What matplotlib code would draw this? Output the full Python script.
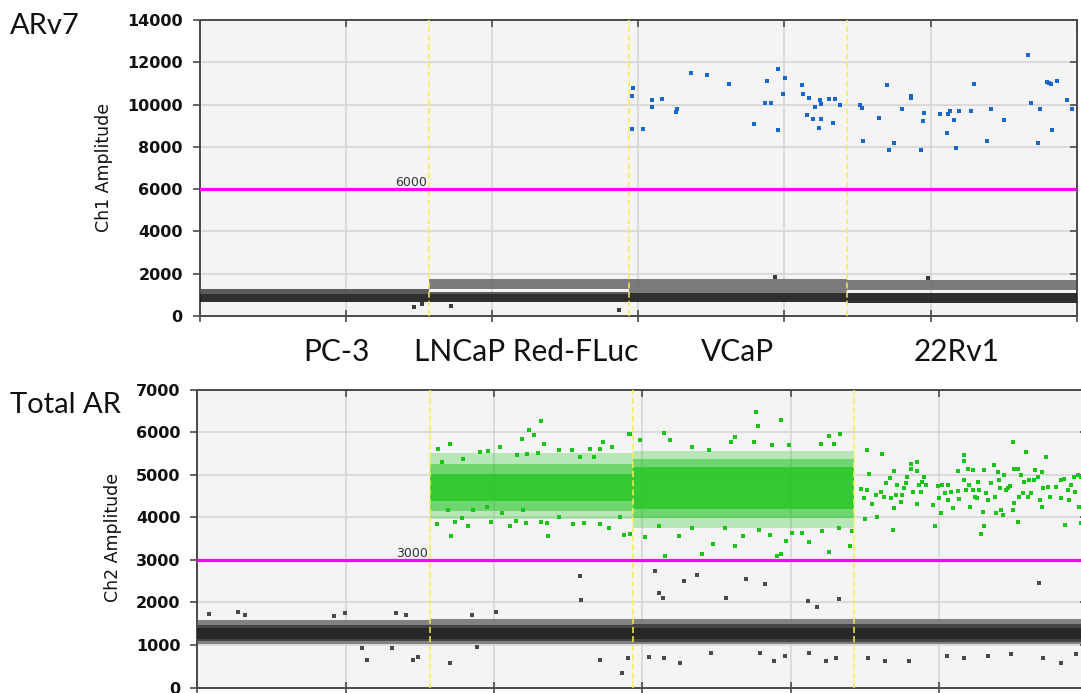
import numpy as np
import matplotlib
matplotlib.use("Agg")
import matplotlib.pyplot as plt
from matplotlib import markers as mmarkers

# ---------------- data ----------------
wells = ["PC-3", "LNCaP Red-FLuc", "VCaP", "22Rv1"]
well_edges = [0.0, 1.57, 2.94, 4.43, 6.0]
ch1_threshold = 6000
ch2_threshold = 3000
ch1_yticks = [0, 2000, 4000, 6000, 8000, 10000, 12000, 14000]
ch2_yticks = [0, 1000, 2000, 3000, 4000, 5000, 6000, 7000]

# Ch1 (ARv7) positive droplets
ch1_pos_x = [2.967, 2.956, 2.956, 3.036, 3.097, 3.097, 3.166, 3.264, 3.257, 3.359,
             3.471, 3.624, 3.795, 3.879, 3.870, 3.907, 3.957, 3.957, 3.989, 4.007,
             4.119, 4.128, 4.169, 4.212, 4.153, 4.194, 4.244, 4.253, 4.253, 4.237,
             4.303, 4.349, 4.331, 4.381,
             4.517, 4.529, 4.536, 4.647, 4.700, 4.716, 4.748, 4.807, 4.866, 4.866,
             4.935, 4.946, 4.953, 5.062, 5.115, 5.122, 5.131, 5.158, 5.174, 5.192,
             5.277, 5.299, 5.386, 5.413, 5.505, 5.669, 5.685, 5.737, 5.746, 5.794,
             5.810, 5.822, 5.828, 5.863, 5.931, 5.965]
ch1_pos_y = [10794, 10382, 8858, 8858, 10223, 9905, 10270, 9794, 9636, 11508,
             11397, 10985, 9080, 11096, 10096, 10096, 11683, 8795, 10509, 11270,
             10921, 10509, 10318, 9905, 9493, 9318, 10223, 10032, 9318, 8906,
             10270, 10270, 9144, 9969,
             9985, 9826, 8255, 9382, 10921, 7842, 8191, 9794, 10382, 10302,
             7842, 9207, 9620, 9556, 8668, 9556, 9683, 9271, 7969, 9683,
             9683, 10985, 8255, 9794, 9271, 12349, 10096, 8191, 9794, 11048,
             11000, 10985, 8795, 11096, 10207, 9794]

# Ch1 negative droplet clusters per well (amplitude ranges)
ch1_neg_lo = [640, 640, 640, 600]
ch1_neg_hi = [1030, 1030, 1100, 1110]
ch1_fringe_lo = [1030, 1030, np.nan, np.nan]
ch1_fringe_hi = [1300, 1140, np.nan, np.nan]
ch1_upper_lo = [np.nan, 1300, 1100, 1240]
ch1_upper_hi = [np.nan, 1750, 1750, 1700]
ch1_out_x = [1.466, 1.52, 1.72, 2.866, 3.936, 4.986]
ch1_out_y = [413, 571, 476, 283, 1858, 1811]

# Ch2 (Total AR) positive droplets (scattered, read individually)
ch2_pos_x = [
    # LNCaP
    2.315, 2.239, 2.273, 2.187, 1.703, 1.624, 2.340, 2.041, 1.962, 1.905,
    2.153, 2.221, 2.300, 2.441, 2.525, 2.649, 2.734, 2.716, 2.795, 2.914,
    1.646, 1.793, 2.581, 2.671, 1.613, 1.707, 1.736, 1.827, 1.782, 1.977,
    2.052, 2.108, 2.149, 2.216, 2.315, 2.363, 2.356, 2.435, 2.536, 2.604,
    2.716, 2.773, 2.878, 2.914, 2.851, 2.198, 1.691, 1.860, 1.950,
    # VCaP
    3.768, 3.779, 3.937, 3.149, 2.986, 2.912, 4.259, 4.331, 3.628, 3.601,
    3.752, 3.989, 4.203, 4.293, 3.189, 3.335, 3.448, 3.876, 3.020, 3.245,
    3.403, 3.475, 3.628, 3.678, 3.860, 3.932, 3.966, 4.011, 4.124, 4.259,
    4.398, 4.079, 4.214, 3.151, 3.910, 3.110, 3.335, 3.561, 3.786, 4.326,
    4.417,
    # 22Rv1
    4.518, 4.619, 4.693, 4.698, 4.671, 4.641, 4.608, 4.585, 4.551, 4.500,
    4.495, 4.513, 4.529, 4.473, 4.574, 4.630, 4.675, 4.709, 4.743, 4.754,
    4.765, 4.777, 4.783, 4.810, 4.815, 4.851, 4.855, 4.867, 4.882, 4.855,
    4.889, 4.900, 4.912, 4.822, 4.720, 4.698, 4.957, 4.973, 4.995, 5.002,
    5.013, 5.024, 5.040, 5.058, 5.063, 5.081, 5.092, 5.126, 5.130, 5.137,
    5.166, 5.171, 5.166, 5.182, 5.198, 5.205, 5.211, 5.227, 5.227, 5.243,
    5.256, 5.261, 5.272, 5.283, 5.295, 5.306, 5.301, 5.317, 5.333, 5.351,
    5.369, 5.378, 5.385, 5.396, 5.407, 5.414, 5.419, 5.430, 5.441, 5.452,
    5.464, 5.482, 5.497, 5.502, 5.504, 5.509, 5.531, 5.531, 5.542, 5.554,
    5.565, 5.576, 5.587, 5.599, 5.610, 5.621, 5.639, 5.650, 5.666, 5.684,
    5.693, 5.693, 5.700, 5.723, 5.734, 5.752, 5.790, 5.824, 5.824, 5.846,
    5.853, 5.869, 5.880, 5.891, 5.909, 5.918, 5.937, 5.948, 5.959, 5.959]
ch2_pos_y = [
    6258, 6056, 5923, 5845, 5713, 5612, 5713, 5651, 5557, 5534,
    5456, 5495, 5511, 5573, 5588, 5612, 5768, 5612, 5651, 5947,
    5300, 5378, 5417, 5417, 3844, 3564, 3898, 3782, 3976, 3898,
    4093, 3797, 3922, 3875, 3898, 3548, 3859, 4015, 3844, 3859,
    3844, 3743, 3587, 3610, 4015, 4171, 4171, 4171, 4249,
    6468, 6141, 6289, 5978, 5822, 5947, 5908, 5962, 5884, 5768,
    5768, 5690, 5713, 5713, 5806, 5651, 5573, 5690, 3532, 3548,
    3143, 3377, 3330, 3548, 3587, 3143, 3431, 3626, 3408, 3174,
    3314, 3626, 3665, 3081, 3081, 3782, 3743, 3743, 3704, 3743,
    3665,
    5588, 5479, 3704, 5090, 4911, 4810, 4599, 4015, 4311, 3961,
    4444, 4638, 5012, 4654, 4521, 4482, 4459, 4521, 4366, 4521,
    4677, 4794, 4934, 5261, 5144, 5300, 5090, 4755, 4599, 4311,
    4833, 4934, 4755, 4599, 4755, 4210, 4288, 3782, 4732, 4444,
    4109, 4755, 4560, 4405, 4755, 4599, 4210, 5090, 4623, 4420,
    5456, 5324, 4872, 4638, 5144, 4755, 4249, 5106, 4638, 4482,
    4444, 4833, 4638, 3610, 4132, 3782, 5106, 4560, 4405, 4794,
    5222, 4482, 4109, 5067, 4872, 4677, 4171, 4054, 4989, 4638,
    4677, 4732, 4171, 5768, 5144, 4327, 3898, 5144, 4482, 4989,
    4560, 4833, 5534, 4482, 4872, 4560, 4872, 5106, 4950, 4405,
    5067, 4233, 4677, 5417, 4716, 4467, 4716, 4872, 4444, 4887,
    3821, 4638, 4405, 4755, 4950, 4599, 4989, 4249, 3859, 4950]

# Ch2 dense positive clouds per well (amplitude ranges, outer -> inner)
ch2_pos_outer_lo = [np.nan, 3950, 3750, np.nan]
ch2_pos_outer_hi = [np.nan, 5500, 5560, np.nan]
ch2_pos_mid_lo = [np.nan, 4150, 3980, np.nan]
ch2_pos_mid_hi = [np.nan, 5250, 5360, np.nan]
ch2_pos_core_lo = [np.nan, 4380, 4200, np.nan]
ch2_pos_core_hi = [np.nan, 5020, 5170, np.nan]

# Ch2 negative clusters per well (outer -> inner)
ch2_neg_outer_lo = [1030, 1030, 1020, 1020]
ch2_neg_outer_hi = [1580, 1600, 1620, 1610]
ch2_neg_mid_lo = [1090, 1090, 1080, 1080]
ch2_neg_mid_hi = [1470, 1470, 1480, 1480]
ch2_neg_core_lo = [1150, 1150, 1140, 1140]
ch2_neg_core_hi = [1400, 1390, 1400, 1400]
ch2_out_x = [0.076, 0.271, 0.323, 1.108, 1.142, 1.314, 1.452, 1.486, 1.704, 1.888,
             2.014, 0.924, 0.993, 1.337, 1.406, 1.853,
             2.577, 2.588, 3.088, 3.112, 3.142, 3.281, 3.367, 3.565, 3.700, 3.826,
             4.119, 4.181, 4.328, 5.677, 2.712, 2.863, 2.902, 3.042, 3.147, 3.251,
             3.460, 3.791, 3.891, 3.960, 4.123, 4.240, 4.309, 4.519, 4.635, 4.798,
             5.053, 5.170, 5.333, 5.484, 5.705, 5.821, 5.926]
ch2_out_y = [1732, 1764, 1709, 921, 646, 921, 646, 724, 567, 945,
             1764, 1685, 1748, 1748, 1709, 1709,
             2616, 2056, 2736, 2216, 2096, 2496, 2632, 2096, 2552, 2432,
             2032, 1888, 2080, 2456, 640, 336, 696, 720, 696, 576,
             816, 800, 616, 736, 816, 616, 696, 696, 616, 616,
             736, 696, 736, 776, 696, 576, 776]

# ---------------- figure ----------------
W, H = 1081, 693
fig = plt.figure(figsize=(W / 100, H / 100), dpi=100)
fig.patch.set_facecolor("white")


def px_axes(left, right, top, bottom):
    return fig.add_axes([left / W, 1 - bottom / H, (right - left) / W, (bottom - top) / H])


ax1 = px_axes(199.5, 1076.7, 20, 316)
ax2 = px_axes(197.4, 1087.2, 389.5, 687.5)

GREEN = "#19c419"
BLUE = "#1b66cc"
SPINE = "#4a4a4a"


def style_axes(ax, ymax, yticks):
    ax.set_facecolor("#f4f4f4")
    ax.set_xlim(well_edges[0], well_edges[-1])
    ax.set_ylim(0, ymax)
    ax.set_yticks(yticks)
    ax.set_xticks(range(0, 7))
    ax.set_xticklabels([])
    ax.grid(True, color="#d6d6d6", lw=1.2, zorder=0)
    ax.set_axisbelow(True)
    for s in ax.spines.values():
        s.set_color(SPINE)
        s.set_linewidth(1.4)
    ax.tick_params(axis="y", left=True, right=True, direction="in",
                   length=5, width=1.2, color=SPINE, pad=12)
    ax.tick_params(axis="x", top=True, bottom=True, direction="inout", length=9,
                   width=1.2, color=SPINE)
    for t in ax.yaxis.get_major_ticks():
        t.tick1line.set_marker(mmarkers.TICKLEFT)   # left ticks point outward
        t.tick2line.set_marker(mmarkers.TICKLEFT)   # right ticks point inward
    for t in ax.xaxis.get_major_ticks():
        t.tick2line.set_marker(mmarkers.TICKDOWN)   # top ticks point inward
        t.tick2line.set_markersize(5)
    for lab in ax.get_yticklabels():
        lab.set_fontweight("bold")
        lab.set_fontsize(11.5)
        lab.set_color("#111111")
        lab.set_fontfamily("DejaVu Sans")


style_axes(ax1, 14000, ch1_yticks)
style_axes(ax2, 7000, ch2_yticks)


def bands(ax, lo, hi, color, alpha, z):
    for i in range(len(lo)):
        if np.isnan(lo[i]):
            continue
        ax.fill_between([well_edges[i], well_edges[i + 1]], lo[i], hi[i],
                        color=color, alpha=alpha, lw=0, zorder=z)


# ---- Ch1 ----
bands(ax1, ch1_upper_lo, ch1_upper_hi, "#666666", 0.85, 2)
bands(ax1, ch1_fringe_lo, ch1_fringe_hi, "#4c4c4c", 0.9, 2)
bands(ax1, ch1_neg_lo, ch1_neg_hi, "#1e1e1e", 0.92, 3)
ax1.scatter(ch1_out_x, ch1_out_y, s=5, marker="s", color="#3a3a3a", lw=0, zorder=4)
ax1.scatter(ch1_pos_x, ch1_pos_y, s=12, marker="s", color=BLUE, lw=0, zorder=4)

# ---- Ch2 ----
bands(ax2, ch2_neg_outer_lo, ch2_neg_outer_hi, "#6e6e6e", 0.85, 2)
bands(ax2, ch2_neg_mid_lo, ch2_neg_mid_hi, "#3a3a3a", 0.85, 2)
bands(ax2, ch2_neg_core_lo, ch2_neg_core_hi, "#222222", 0.85, 3)
bands(ax2, ch2_pos_outer_lo, ch2_pos_outer_hi, GREEN, 0.28, 2)
bands(ax2, ch2_pos_mid_lo, ch2_pos_mid_hi, GREEN, 0.45, 2)
bands(ax2, ch2_pos_core_lo, ch2_pos_core_hi, GREEN, 0.7, 3)
ax2.scatter(ch2_out_x, ch2_out_y, s=5, marker="s", color="#4a4a4a", lw=0, zorder=4)
ax2.scatter(ch2_pos_x, ch2_pos_y, s=10, marker="s", color=GREEN, lw=0, zorder=4)

# thresholds and well separators
for ax, thr in ((ax1, ch1_threshold), (ax2, ch2_threshold)):
    ax.axhline(thr, color="#ff00ff", lw=2.3, zorder=6)
    ax.text(1.45, thr, f"{thr}", ha="center", va="bottom", fontsize=9,
            color="#333333", zorder=7)
    for xe in well_edges[1:-1]:
        ax.axvline(xe, color="#f2ee55", lw=1.1, ls=(0, (4, 2)), zorder=5)

# axis labels
fig.text(104 / W, 1 - 167 / H, "Ch1 Amplitude", rotation=90, ha="center", va="center",
         fontsize=12.5, color="#111111")
fig.text(113 / W, 1 - 537 / H, "Ch2 Amplitude", rotation=90, ha="center", va="center",
         fontsize=12.5, color="#111111")

# panel titles
fig.text(10 / W, 1 - 26 / H, "ARv7", ha="left", va="center", fontsize=21,
         family="Lato", color="#111111")
fig.text(10 / W, 1 - 405 / H, "Total AR", ha="left", va="center", fontsize=21,
         family="Lato", color="#111111")

# cell line labels
well_label_x = [336, 526, 737, 957]
for name, xp in zip(wells, well_label_x):
    fig.text(xp / W, 1 - 352 / H, name, ha="center", va="center", fontsize=21.5,
             family="Lato", color="#111111")

fig.savefig("out.png", dpi=100)
